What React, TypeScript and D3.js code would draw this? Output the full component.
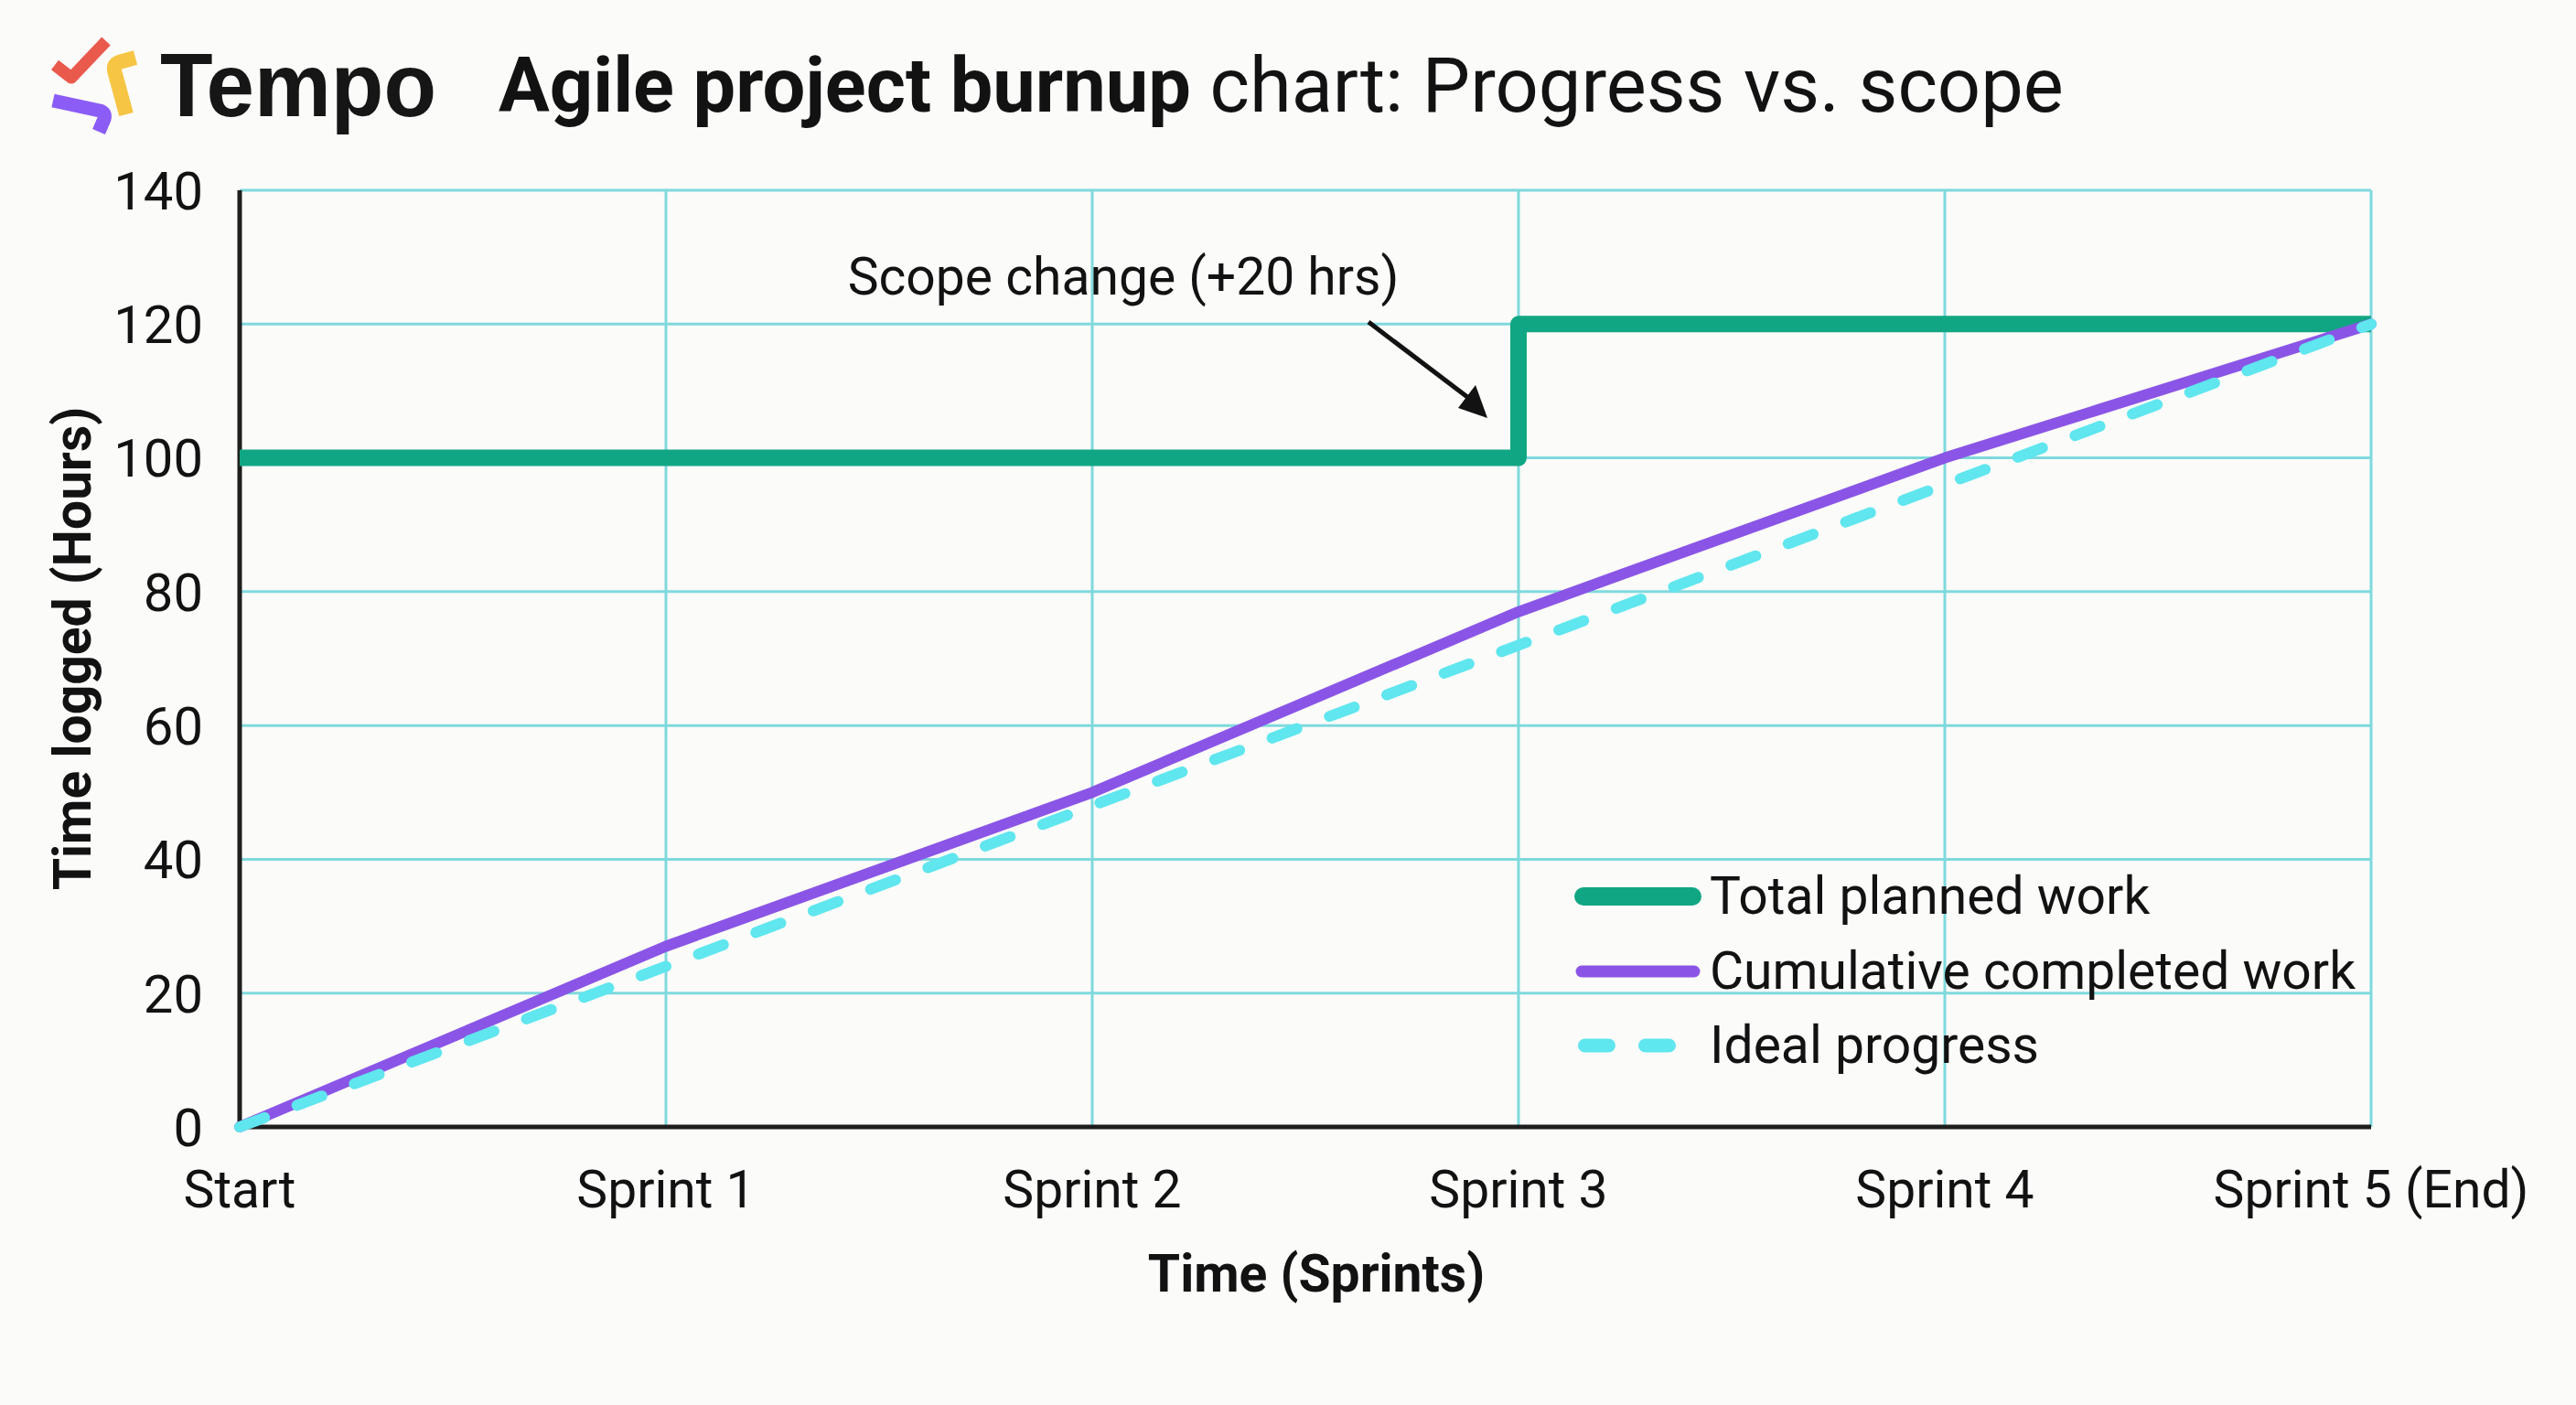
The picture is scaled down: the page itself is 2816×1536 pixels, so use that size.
import React from "react";
import * as d3 from "d3";

const categories = ["Start", "Sprint 1", "Sprint 2", "Sprint 3", "Sprint 4", "Sprint 5 (End)"];
const plannedWork = [100, 100, 100, 120, 120, 120];
const completedWork = [0, 27, 50, 77, 100, 120];
const idealProgress = [0, 24, 48, 72, 96, 120];
const yTicks = [0, 20, 40, 60, 80, 100, 120, 140];
const legendItems = ["Total planned work", "Cumulative completed work", "Ideal progress"];

const W = 2816;
const H = 1536;
const FONT = "Roboto, 'Noto Sans', sans-serif";

export default function App() {
  const x = d3.scalePoint<string>().domain(categories).range([262, 2592]);
  const y = d3.scaleLinear().domain([0, 140]).range([1232, 208]);

  const stepLine = d3
    .line<number>()
    .x((_, i) => x(categories[i]) as number)
    .y((d) => y(d))
    .curve(d3.curveStepAfter);
  const straight = d3
    .line<number>()
    .x((_, i) => x(categories[i]) as number)
    .y((d) => y(d));

  const gridColor = "#7fd9dd";
  const green = "#11a683";
  const purple = "#8a55e6";
  const cyan = "#5fe6ee";
  const ink = "#121212";

  const [x0, x1] = x.range();
  const legendY = [980, 1062, 1143];

  return (
    <div style={{ position: "absolute", left: 0, top: 0, width: W, height: H }}>
      <svg width={W} height={H} viewBox={`0 0 ${W} ${H}`} style={{ display: "block" }}>
        <rect x={0} y={0} width={W} height={H} fill="#fbfbf9" />

        {/* Logo */}
        <g fill="none" strokeLinecap="butt" strokeLinejoin="round">
          <path d="M60,71 L78,85 L116,45" stroke="#ea5a4c" strokeWidth={13} />
          <path d="M148,63 L130,68 Q124,70 125,77 L138,125" stroke="#f7c544" strokeWidth={16} />
          <path d="M58,110 L109,121 Q116,123 114,130 L108,144" stroke="#8b5cf6" strokeWidth={15} />
        </g>
        <text
          x={175}
          y={127}
          fontFamily="'Liberation Sans', Arial, sans-serif"
          fontWeight={700}
          fontSize={99}
          textLength={302}
          lengthAdjust="spacingAndGlyphs"
          fill="#161616"
        >
          Tempo
        </text>
        <text x={545} y={122} fontFamily={FONT} fontSize={83} fill={ink}>
          <tspan fontWeight={700}>Agile project burnup</tspan>
          <tspan fontWeight={400}> chart: Progress vs. scope</tspan>
        </text>

        {/* Grid */}
        <g stroke={gridColor} strokeWidth={3}>
          {yTicks.map((t) => (
            <line key={"h" + t} x1={x0} x2={x1} y1={y(t)} y2={y(t)} />
          ))}
          {categories.map((c) => (
            <line key={"v" + c} x1={x(c)} x2={x(c)} y1={y(140)} y2={y(0)} />
          ))}
        </g>

        {/* Axes */}
        <line x1={x0} x2={x0} y1={y(140)} y2={y(0) + 2} stroke="#1e1e1e" strokeWidth={5} />
        <line x1={x0 - 2} x2={x1} y1={y(0)} y2={y(0)} stroke="#1e1e1e" strokeWidth={5} />

        {/* Y ticks */}
        {yTicks.map((t) => (
          <text
            key={"yt" + t}
            x={222}
            y={y(t)}
            dy="0.36em"
            textAnchor="end"
            fontFamily={FONT}
            fontSize={58}
            fill={ink}
          >
            {t}
          </text>
        ))}
        {/* X ticks */}
        {categories.map((c) => (
          <text
            key={"xt" + c}
            x={x(c)}
            y={1320}
            textAnchor="middle"
            fontFamily={FONT}
            fontSize={57}
            fill={ink}
          >
            {c}
          </text>
        ))}

        {/* Axis titles */}
        <text
          transform="translate(99,709) rotate(-90)"
          textAnchor="middle"
          fontFamily={FONT}
          fontWeight={700}
          fontSize={57}
          fill={ink}
        >
          Time logged (Hours)
        </text>
        <text x={1439} y={1412} textAnchor="middle" fontFamily={FONT} fontWeight={700} fontSize={57} fill={ink}>
          Time (Sprints)
        </text>

        {/* Series */}
        <path d={stepLine(plannedWork) || ""} fill="none" stroke={green} strokeWidth={18} strokeLinejoin="round" />
        <path d={straight(completedWork) || ""} fill="none" stroke={purple} strokeWidth={12} strokeLinejoin="round" strokeLinecap="round" />
        <path
          d={straight(idealProgress) || ""}
          fill="none"
          stroke={cyan}
          strokeWidth={12}
          strokeDasharray="29 38"
          strokeLinecap="round"
        />

        {/* Annotation */}
        <text x={1228} y={322} textAnchor="middle" fontFamily={FONT} fontSize={57} fill={ink}>
          Scope change (+20 hrs)
        </text>
        <line x1={1496} y1={352} x2={1608} y2={437} stroke={ink} strokeWidth={5} />
        <path d="M1626,457 L1594,446 L1613,421 Z" fill={ink} />

        {/* Legend */}
        <line x1={1731} x2={1850} y1={legendY[0]} y2={legendY[0]} stroke={green} strokeWidth={20} strokeLinecap="round" />
        <line x1={1729} x2={1852} y1={legendY[1]} y2={legendY[1]} stroke={purple} strokeWidth={13} strokeLinecap="round" />
        <line
          x1={1732.5}
          x2={1826}
          y1={legendY[2]}
          y2={legendY[2]}
          stroke={cyan}
          strokeWidth={15}
          strokeLinecap="round"
          strokeDasharray="26 40"
        />
        {legendItems.map((l, i) => (
          <text key={l} x={1869} y={legendY[i] + 19} fontFamily={FONT} fontSize={57} fill={ink}>
            {l}
          </text>
        ))}
      </svg>
    </div>
  );
}
